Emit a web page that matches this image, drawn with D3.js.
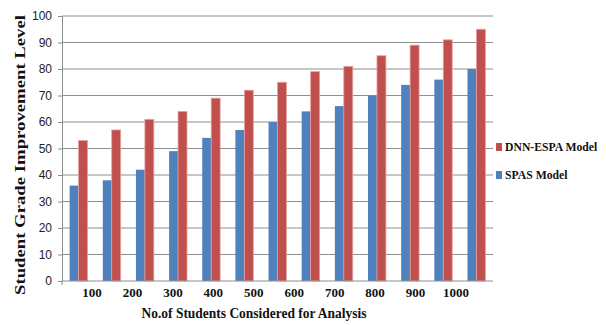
<!DOCTYPE html>
<html>
<head>
<meta charset="utf-8">
<script src="https://cdn.jsdelivr.net/npm/d3@7"></script>
<style>
  body { margin: 0; background: #fff; }
  svg { display: block; }
</style>
</head>
<body>
<div id="app"></div>
<script>
// data
var groups = ["g1", "g2", "g3", "g4", "g5", "g6", "g7", "g8", "g9", "g10", "g11", "g12", "g13"];
var spasValues = [36, 38, 42, 49, 54, 57, 60, 64, 66, 70, 74, 76, 80];
var dnnValues = [53, 57, 61, 64, 69, 72, 75, 79, 81, 85, 89, 91, 95];
var xTickLabels = ["100", "200", "300", "400", "500", "600", "700", "800", "900", "1000"];
var yTicks = [0, 10, 20, 30, 40, 50, 60, 70, 80, 90, 100];
var seriesNames = ["DNN-ESPA Model", "SPAS Model"];
var colors = {"SPAS Model": "#4f81bd", "DNN-ESPA Model": "#c0504d"};

var width = 606, height = 325;
var margin = {top: 16, right: 113, bottom: 44, left: 62};
var w = width - margin.left - margin.right;
var h = height - margin.top - margin.bottom;

var serif = "'Liberation Serif', 'Times New Roman', serif";

var svg = d3.select("#app")
  .append("svg")
    .attr("width", width)
    .attr("height", height);

var g = svg.append("g")
  .attr("transform", "translate(" + margin.left + "," + margin.top + ")");

// scales
var x = d3.scaleBand()
  .domain(groups)
  .range([0, w])
  .paddingInner(0.46)
  .paddingOuter(0.23);

var xSub = d3.scaleBand()
  .domain(["SPAS Model", "DNN-ESPA Model"])
  .range([0, x.bandwidth()]);

var y = d3.scaleLinear()
  .domain([0, 100])
  .range([h, 0]);

// gridlines
g.selectAll(".grid")
  .data(yTicks.slice(1))
  .join("line")
    .attr("class", "grid")
    .attr("x1", 0)
    .attr("x2", w)
    .attr("y1", d => y(d))
    .attr("y2", d => y(d))
    .attr("stroke", "#8e8e8e")
    .attr("stroke-width", 1);

// y axis
var yAxis = g.append("g")
  .call(d3.axisLeft(y).tickValues(yTicks).tickSize(4).tickPadding(6));
yAxis.select(".domain").attr("stroke", "#8e8e8e");
yAxis.selectAll(".tick line").attr("stroke", "#8e8e8e");
yAxis.selectAll("text")
  .attr("fill", "#222")
  .style("font-family", "'Liberation Sans', Arial, sans-serif")
  .style("font-size", "12px");

// bars
var grp = g.selectAll(".group")
  .data(groups)
  .join("g")
    .attr("class", "group")
    .attr("transform", d => "translate(" + x(d) + ",0)");

grp.append("rect")
  .attr("x", xSub("SPAS Model"))
  .attr("y", (d, i) => y(spasValues[i]))
  .attr("width", xSub.bandwidth())
  .attr("height", (d, i) => h - y(spasValues[i]))
  .attr("fill", colors["SPAS Model"]);

grp.append("rect")
  .attr("x", xSub("DNN-ESPA Model"))
  .attr("y", (d, i) => y(dnnValues[i]))
  .attr("width", xSub.bandwidth())
  .attr("height", (d, i) => h - y(dnnValues[i]))
  .attr("fill", colors["DNN-ESPA Model"])
  .attr("stroke", "#e8a0a0")
  .attr("stroke-width", 0.8);

// x axis line
g.append("line")
  .attr("x1", 0).attr("x2", w)
  .attr("y1", h).attr("y2", h)
  .attr("stroke", "#8e8e8e");
g.append("line")
  .attr("x1", 0).attr("x2", 0)
  .attr("y1", h).attr("y2", h + 4)
  .attr("stroke", "#8e8e8e");

// x tick labels (not aligned to the bar groups in the original)
var xLab = d3.scalePoint()
  .domain(xTickLabels)
  .range([92 - margin.left, 456 - margin.left]);

g.selectAll(".xlab")
  .data(xTickLabels)
  .join("text")
    .attr("class", "xlab")
    .attr("x", d => xLab(d))
    .attr("y", h + 16)
    .attr("text-anchor", "middle")
    .style("font-family", serif)
    .style("font-weight", "bold")
    .style("font-size", "13px")
    .attr("fill", "#111")
    .text(d => d);

// axis titles
svg.append("text")
  .attr("x", 254)
  .attr("y", 318)
  .attr("text-anchor", "middle")
  .attr("textLength", 225)
  .attr("lengthAdjust", "spacingAndGlyphs")
  .style("font-family", serif)
  .style("font-weight", "bold")
  .style("font-size", "14px")
  .attr("fill", "#111")
  .text("No.of Students Considered for Analysis");

svg.append("text")
  .attr("transform", "translate(25,155) rotate(-90)")
  .attr("text-anchor", "middle")
  .attr("textLength", 280)
  .attr("lengthAdjust", "spacingAndGlyphs")
  .style("font-family", serif)
  .style("font-weight", "bold")
  .style("font-size", "15px")
  .attr("fill", "#111")
  .text("Student Grade Improvement Level");

// legend
var legend = svg.selectAll(".legend")
  .data(seriesNames)
  .join("g")
    .attr("class", "legend")
    .attr("transform", (d, i) => "translate(496," + (143 + i * 28) + ")");

legend.append("rect")
  .attr("width", 6)
  .attr("height", 8)
  .attr("fill", d => colors[d]);

legend.append("text")
  .attr("x", 9)
  .attr("y", 8)
  .style("font-family", serif)
  .style("font-weight", "bold")
  .style("font-size", "11.7px")
  .attr("fill", "#111")
  .text(d => d);
</script>
</body>
</html>
